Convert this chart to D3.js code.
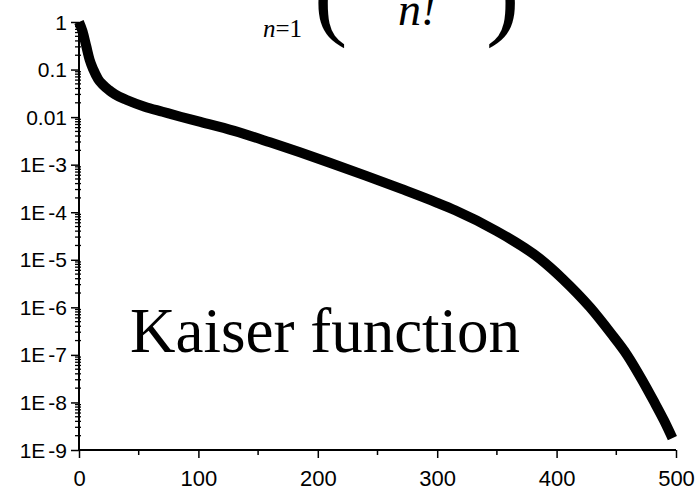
<!DOCTYPE html>
<html>
<head>
<meta charset="utf-8">
<script src="https://cdn.jsdelivr.net/npm/d3@7"></script>
<style>
  body { margin: 0; background: #fff; }
</style>
</head>
<body>
<div id="chart"></div>
<script>
// values
const xValues = [0, 3, 6, 9, 12, 16, 20, 25, 30, 40, 55, 70, 85, 100, 130, 160, 185, 210, 240, 270, 300, 315, 350, 386, 405, 428, 445, 459, 471, 482, 490, 497];
const yValues = [1, 0.631, 0.316, 0.158, 0.1, 0.0631, 0.0479, 0.0372, 0.0302, 0.0229, 0.0166, 0.013, 0.0102, 0.00813, 0.00513, 0.00295, 0.00182, 0.0011, 5.89e-4, 3.09e-4, 1.58e-4, 1.1e-4, 3.98e-5, 1.05e-5, 3.98e-6, 1e-6, 2.95e-7, 1e-7, 3.16e-8, 1e-8, 4.17e-9, 1.78e-9];

const xTicks = [0, 100, 200, 300, 400, 500];
const xMinorTicks = [50, 150, 250, 350, 450];
const yTicks = [1, 0.1, 0.01, 1e-3, 1e-4, 1e-5, 1e-6, 1e-7, 1e-8, 1e-9];
const yTickLabels = ["1", "0.1", "0.01", "1E-3", "1E-4", "1E-5", "1E-6", "1E-7", "1E-8", "1E-9"];

const svgWidth = 695;
const svgHeight = 492;
const margin = { top: 22, right: 19, bottom: 42, left: 79 };

const width = svgWidth - margin.left - margin.right;
const height = svgHeight - margin.top - margin.bottom;

const data = xValues.map((x, i) => ({ x, y: yValues[i] }));

const svg = d3.select("#chart")
  .append("svg")
  .attr("width", svgWidth)
  .attr("height", svgHeight);

const g = svg.append("g")
  .attr("transform", `translate(${margin.left},${margin.top})`);

const x = d3.scaleLinear().domain([0, 500]).range([0, width]);
const y = d3.scaleLog().domain([1e-9, 1]).range([height, 0]);

// curve
const line = d3.line()
  .x((d) => x(d.x))
  .y((d) => y(d.y))
  .curve(d3.curveMonotoneX);

g.append("path")
  .datum(data)
  .attr("fill", "none")
  .attr("stroke", "#000")
  .attr("stroke-width", 10)
  .attr("d", line);

// y axis
const minor = [];
yTicks.slice(0, -1).forEach((t) => {
  for (let k = 2; k <= 9; k++) minor.push(t / 10 * k);
});

g.append("g")
  .selectAll("line")
  .data(minor)
  .join("line")
  .attr("x1", -4).attr("x2", 2)
  .attr("y1", (d) => y(d)).attr("y2", (d) => y(d))
  .attr("stroke", "#000").attr("stroke-width", 1.3);

const yAxis = g.append("g")
  .call(d3.axisLeft(y).tickValues(yTicks).tickSize(8).tickFormat(""));
yAxis.select(".domain").remove();
yAxis.selectAll(".tick line").attr("stroke-width", 1.5);

g.append("line")
  .attr("x1", 0).attr("x2", 0)
  .attr("y1", y(1)).attr("y2", height + 1)
  .attr("stroke", "#000").attr("stroke-width", 2);

const yLab = g.append("g")
  .selectAll("text")
  .data(yTicks)
  .join("text")
  .attr("x", -12)
  .attr("y", (d) => y(d))
  .attr("dy", "0.36em")
  .attr("text-anchor", "end")
  .style("font-family", "Liberation Sans, Arial, sans-serif")
  .style("font-size", "21px");

yLab.each(function (d, i) {
  const s = yTickLabels[i];
  const t = d3.select(this);
  if (s.includes("E")) {
    t.append("tspan").text(s.slice(0, 2));
    t.append("tspan").attr("dx", 3).text(s.slice(2));
  } else {
    t.text(s);
  }
});

// x axis
g.append("g")
  .attr("transform", `translate(0,${height})`)
  .selectAll("line")
  .data(xMinorTicks)
  .join("line")
  .attr("x1", (d) => x(d)).attr("x2", (d) => x(d))
  .attr("y1", 0).attr("y2", 5)
  .attr("stroke", "#000").attr("stroke-width", 1.5);

const xAxis = g.append("g")
  .attr("transform", `translate(0,${height})`)
  .call(d3.axisBottom(x).tickValues(xTicks).tickSize(8).tickPadding(12));
xAxis.select(".domain").remove();
xAxis.selectAll(".tick line").attr("stroke-width", 1.5);
xAxis.selectAll(".tick text")
  .style("font-family", "Liberation Sans, Arial, sans-serif")
  .style("font-size", "22px")
  .attr("fill", "#000");

g.append("line")
  .attr("x1", -1).attr("x2", width)
  .attr("y1", height).attr("y2", height)
  .attr("stroke", "#000").attr("stroke-width", 2);

// label
svg.append("text")
  .attr("x", 130)
  .attr("y", 352)
  .style("font-family", "Liberation Serif, Times New Roman, serif")
  .style("font-size", "63px")
  .text("Kaiser function");

// formula (cut off at the top)
const serif = "Liberation Serif, Times New Roman, serif";
svg.append("text")
  .attr("x", 263).attr("y", 37)
  .style("font-family", serif).style("font-size", "25px")
  .call((t) => {
    t.append("tspan").style("font-style", "italic").text("n");
    t.append("tspan").text("=1");
  });
svg.append("text")
  .attr("x", 314).attr("y", 27)
  .style("font-family", serif).style("font-size", "100px")
  .text("(");
svg.append("text")
  .attr("x", 398).attr("y", 25)
  .style("font-family", serif).style("font-style", "italic").style("font-size", "46px")
  .text("n!");
svg.append("text")
  .attr("x", 486).attr("y", 27)
  .style("font-family", serif).style("font-size", "100px")
  .text(")");
</script>
</body>
</html>
